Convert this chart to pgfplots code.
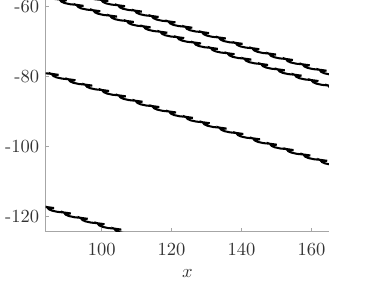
\documentclass[border=0pt]{standalone}
\usepackage{pgfplots}
\pgfplotsset{compat=1.18}
\begin{document}
\begin{tikzpicture}
\begin{axis}[
  scale only axis,
  width=153.1pt, height=125.2pt,
  xmin=84, xmax=165, ymin=-124.3, ymax=-58.1,
  axis lines*=left,
  axis line style={black!35, line width=0.5pt},
  tick style={black!35, line width=0.5pt},
  tick align=inside,
  major tick length=2pt,
  xtick={100,120,140,160},
  ytick={-120,-100,-80,-60},
  yticklabels={-120,-100,-80,-60},
  xticklabel style={yshift=-2.7pt, text=black!80},
  yticklabel style={text=black!80},
  xlabel={$x$},
  xlabel style={at={(axis description cs:0.5,0)}, anchor=center, yshift=-22.4pt, text=black!80},
  clip=true,
]
\coordinate (SW) at (rel axis cs:0,0);
\node[anchor=north east, inner sep=0pt, xshift=-22.8pt, text=black!80] at (rel axis cs:0,0.569) {$y$};
% curve 1
\addplot[black, line width=1.1pt, mark=none] coordinates {
(95.1,-56.53) (95.6,-57.13) (96.5,-57.53) (98.1,-57.88) (100.1,-58.08) (101.9,-58.33) (100.9,-58.38)
(99.9,-58.07) (100.4,-58.67) (101.3,-59.07) (102.9,-59.42) (104.9,-59.62) (106.7,-59.87) (105.7,-59.92)
(104.7,-59.60) (105.2,-60.20) (106.1,-60.60) (107.7,-60.95) (109.7,-61.15) (111.5,-61.40) (110.5,-61.45)
(109.5,-61.14) (110.0,-61.74) (110.9,-62.14) (112.5,-62.49) (114.5,-62.69) (116.3,-62.94) (115.3,-62.99)
(114.3,-62.68) (114.8,-63.28) (115.7,-63.68) (117.3,-64.03) (119.3,-64.23) (121.1,-64.48) (120.1,-64.53)
(119.1,-64.21) (119.6,-64.81) (120.5,-65.21) (122.1,-65.56) (124.1,-65.76) (125.9,-66.01) (124.9,-66.06)
(123.9,-65.75) (124.4,-66.35) (125.3,-66.75) (126.9,-67.10) (128.9,-67.30) (130.7,-67.55) (129.7,-67.60)
(128.7,-67.28) (129.2,-67.88) (130.1,-68.28) (131.7,-68.63) (133.7,-68.83) (135.5,-69.08) (134.5,-69.13)
(133.5,-68.82) (134.0,-69.42) (134.9,-69.82) (136.5,-70.17) (138.5,-70.37) (140.3,-70.62) (139.3,-70.67)
(138.3,-70.36) (138.8,-70.96) (139.7,-71.36) (141.3,-71.71) (143.3,-71.91) (145.1,-72.16) (144.1,-72.21)
(143.1,-71.89) (143.6,-72.49) (144.5,-72.89) (146.1,-73.24) (148.1,-73.44) (149.9,-73.69) (148.9,-73.74)
(147.9,-73.43) (148.4,-74.03) (149.3,-74.43) (150.9,-74.78) (152.9,-74.98) (154.7,-75.23) (153.7,-75.28)
(152.7,-74.96) (153.2,-75.56) (154.1,-75.96) (155.7,-76.31) (157.7,-76.51) (159.5,-76.76) (158.5,-76.81)
(157.5,-76.50) (158.0,-77.10) (158.9,-77.50) (160.5,-77.85) (162.5,-78.05) (164.3,-78.30) (163.3,-78.35)
(162.3,-78.04) (162.8,-78.64) (163.7,-79.04) (165.3,-79.39) (167.3,-79.59)
};
% curve 2
\addplot[black, line width=1.1pt, mark=none] coordinates {
(83.2,-56.42) (83.7,-57.02) (84.6,-57.42) (86.2,-57.77) (88.2,-57.97) (90.0,-58.22) (89.0,-58.27)
(88.0,-57.96) (88.5,-58.56) (89.4,-58.96) (91.0,-59.31) (93.0,-59.51) (94.8,-59.76) (93.8,-59.81)
(92.8,-59.50) (93.3,-60.10) (94.2,-60.50) (95.8,-60.85) (97.8,-61.05) (99.6,-61.30) (98.6,-61.35)
(97.6,-61.03) (98.1,-61.63) (99.0,-62.03) (100.6,-62.38) (102.6,-62.58) (104.4,-62.83) (103.4,-62.88)
(102.4,-62.57) (102.9,-63.17) (103.8,-63.57) (105.4,-63.92) (107.4,-64.12) (109.2,-64.37) (108.2,-64.42)
(107.2,-64.10) (107.7,-64.70) (108.6,-65.10) (110.2,-65.45) (112.2,-65.65) (114.0,-65.90) (113.0,-65.95)
(112.0,-65.64) (112.5,-66.24) (113.4,-66.64) (115.0,-66.99) (117.0,-67.19) (118.8,-67.44) (117.8,-67.49)
(116.8,-67.18) (117.3,-67.78) (118.2,-68.18) (119.8,-68.53) (121.8,-68.73) (123.6,-68.98) (122.6,-69.03)
(121.6,-68.71) (122.1,-69.31) (123.0,-69.71) (124.6,-70.06) (126.6,-70.26) (128.4,-70.51) (127.4,-70.56)
(126.4,-70.25) (126.9,-70.85) (127.8,-71.25) (129.4,-71.60) (131.4,-71.80) (133.2,-72.05) (132.2,-72.10)
(131.2,-71.78) (131.7,-72.38) (132.6,-72.78) (134.2,-73.13) (136.2,-73.33) (138.0,-73.58) (137.0,-73.63)
(136.0,-73.32) (136.5,-73.92) (137.4,-74.32) (139.0,-74.67) (141.0,-74.87) (142.8,-75.12) (141.8,-75.17)
(140.8,-74.86) (141.3,-75.46) (142.2,-75.86) (143.8,-76.21) (145.8,-76.41) (147.6,-76.66) (146.6,-76.71)
(145.6,-76.39) (146.1,-76.99) (147.0,-77.39) (148.6,-77.74) (150.6,-77.94) (152.4,-78.19) (151.4,-78.24)
(150.4,-77.93) (150.9,-78.53) (151.8,-78.93) (153.4,-79.28) (155.4,-79.48) (157.2,-79.73) (156.2,-79.78)
(155.2,-79.46) (155.7,-80.06) (156.6,-80.46) (158.2,-80.81) (160.2,-81.01) (162.0,-81.26) (161.0,-81.31)
(160.0,-81.00) (160.5,-81.60) (161.4,-82.00) (163.0,-82.35) (165.0,-82.55) (166.8,-82.80) (165.8,-82.85)
(164.8,-82.54) (165.3,-83.14) (166.2,-83.54)
};
% curve 3
\addplot[black, line width=1.1pt, mark=none] coordinates {
(80.9,-77.69) (81.4,-78.29) (82.3,-78.69) (83.9,-79.04) (85.9,-79.24) (87.7,-79.49) (86.7,-79.54)
(85.7,-79.22) (86.2,-79.82) (87.1,-80.22) (88.7,-80.57) (90.7,-80.77) (92.5,-81.02) (91.5,-81.07)
(90.5,-80.76) (91.0,-81.36) (91.9,-81.76) (93.5,-82.11) (95.5,-82.31) (97.3,-82.56) (96.3,-82.61)
(95.3,-82.30) (95.8,-82.90) (96.7,-83.30) (98.3,-83.65) (100.3,-83.85) (102.1,-84.10) (101.1,-84.15)
(100.1,-83.83) (100.6,-84.43) (101.5,-84.83) (103.1,-85.18) (105.1,-85.38) (106.9,-85.63) (105.9,-85.68)
(104.9,-85.37) (105.4,-85.97) (106.3,-86.37) (107.9,-86.72) (109.9,-86.92) (111.7,-87.17) (110.7,-87.22)
(109.7,-86.90) (110.2,-87.50) (111.1,-87.90) (112.7,-88.25) (114.7,-88.45) (116.5,-88.70) (115.5,-88.75)
(114.5,-88.44) (115.0,-89.04) (115.9,-89.44) (117.5,-89.79) (119.5,-89.99) (121.3,-90.24) (120.3,-90.29)
(119.3,-89.98) (119.8,-90.58) (120.7,-90.98) (122.3,-91.33) (124.3,-91.53) (126.1,-91.78) (125.1,-91.83)
(124.1,-91.51) (124.6,-92.11) (125.5,-92.51) (127.1,-92.86) (129.1,-93.06) (130.9,-93.31) (129.9,-93.36)
(128.9,-93.05) (129.4,-93.65) (130.3,-94.05) (131.9,-94.40) (133.9,-94.60) (135.7,-94.85) (134.7,-94.90)
(133.7,-94.58) (134.2,-95.18) (135.1,-95.58) (136.7,-95.93) (138.7,-96.13) (140.5,-96.38) (139.5,-96.43)
(138.5,-96.12) (139.0,-96.72) (139.9,-97.12) (141.5,-97.47) (143.5,-97.67) (145.3,-97.92) (144.3,-97.97)
(143.3,-97.66) (143.8,-98.26) (144.7,-98.66) (146.3,-99.01) (148.3,-99.21) (150.1,-99.46) (149.1,-99.51)
(148.1,-99.19) (148.6,-99.79) (149.5,-100.19) (151.1,-100.54) (153.1,-100.74) (154.9,-100.99) (153.9,-101.04)
(152.9,-100.73) (153.4,-101.33) (154.3,-101.73) (155.9,-102.08) (157.9,-102.28) (159.7,-102.53) (158.7,-102.58)
(157.7,-102.26) (158.2,-102.86) (159.1,-103.26) (160.7,-103.61) (162.7,-103.81) (164.5,-104.06) (163.5,-104.11)
(162.5,-103.80) (163.0,-104.40) (163.9,-104.80) (165.5,-105.15) (167.5,-105.35)
};
% curve 4
\addplot[black, line width=1.1pt, mark=none] coordinates {
(79.6,-115.77) (80.1,-116.37) (81.0,-116.77) (82.6,-117.12) (84.6,-117.32) (86.4,-117.57) (85.4,-117.62)
(84.4,-117.31) (84.9,-117.91) (85.8,-118.31) (87.4,-118.66) (89.4,-118.86) (91.2,-119.11) (90.2,-119.16)
(89.2,-118.84) (89.7,-119.44) (90.6,-119.84) (92.2,-120.19) (94.2,-120.39) (96.0,-120.64) (95.0,-120.69)
(94.0,-120.38) (94.5,-120.98) (95.4,-121.38) (97.0,-121.73) (99.0,-121.93) (100.8,-122.18) (99.8,-122.23)
(98.8,-121.92) (99.3,-122.52) (100.2,-122.92) (101.8,-123.27) (103.8,-123.47) (105.6,-123.72) (104.6,-123.77)
(103.6,-123.45) (104.1,-124.05) (105.0,-124.45) (106.6,-124.80)
};
\end{axis}
\pgfresetboundingbox
\path[use as bounding box] (SW) ++(-24.7pt,-30.5pt) rectangle ++(210.3pt,155.7pt);
\end{tikzpicture}
\end{document}
